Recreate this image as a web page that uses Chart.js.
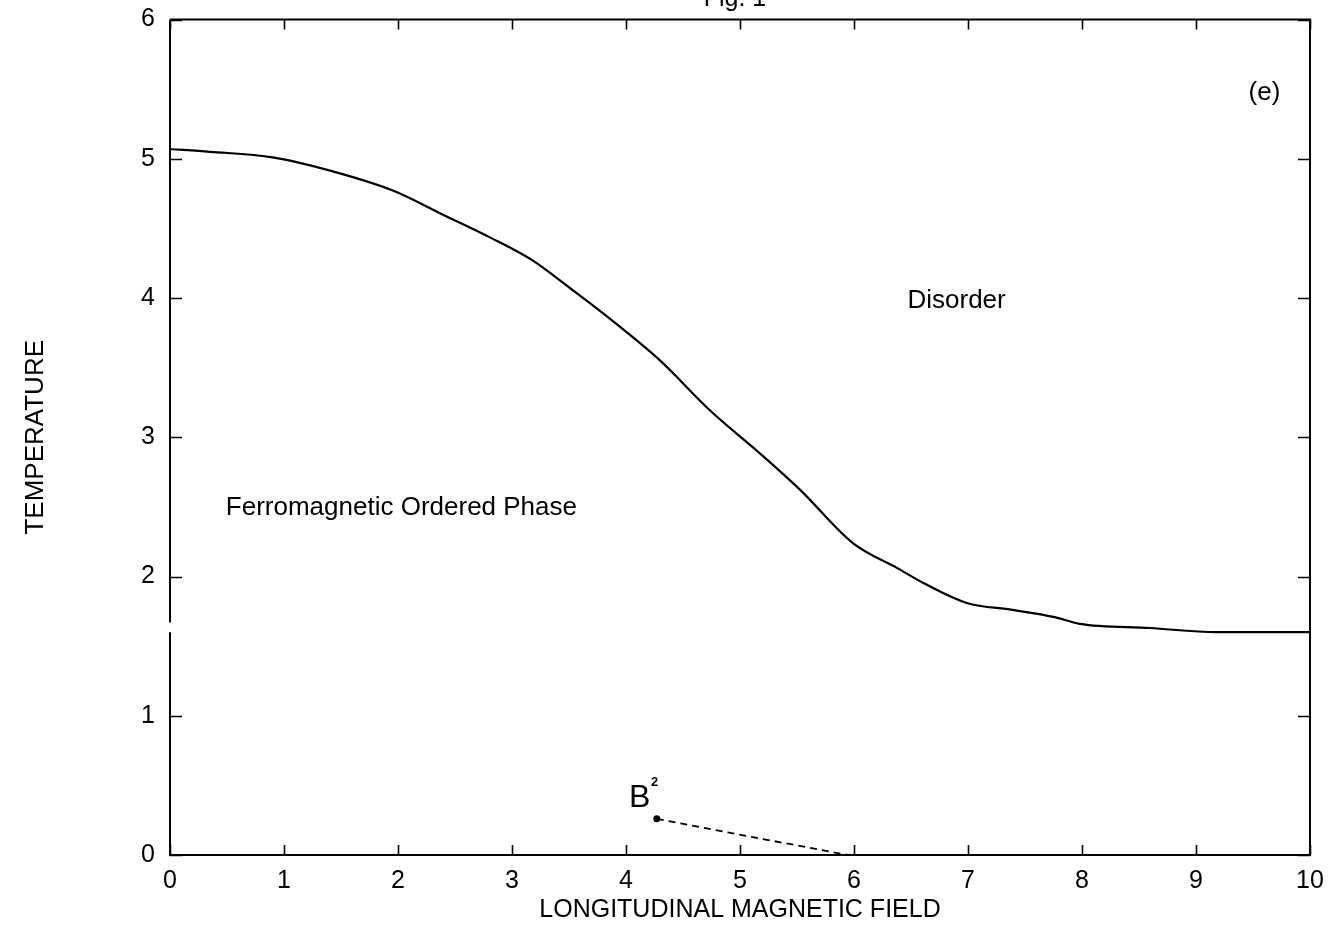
<!DOCTYPE html>
<html>
<head>
<meta charset="utf-8">
<script src="https://cdn.jsdelivr.net/npm/chart.js@4.4.1/dist/chart.umd.min.js"></script>
<style>
  html, body { margin: 0; padding: 0; background: #fff; }
  #wrap { width: 1330px; height: 925px; }
</style>
</head>
<body>
<div id="wrap"><canvas id="phase-chart" width="1330" height="925"></canvas></div>
<script>
// Phase boundary (field, temperature)
const boundaryField = [0, 0.35, 0.9, 1.38, 1.96, 2.39, 2.82, 3.18, 3.51, 3.86, 4.3, 4.74, 5.18, 5.53, 5.99, 6.38, 6.64, 6.99, 7.39, 7.75, 7.98, 8.6, 9.18, 10];
const boundaryTemp  = [5.07, 5.05, 5.01, 4.92, 4.77, 4.6, 4.43, 4.27, 4.07, 3.85, 3.55, 3.19, 2.88, 2.62, 2.24, 2.06, 1.94, 1.81, 1.76, 1.71, 1.66, 1.63, 1.6, 1.6];

// Dashed pointer from the B² mark down to the axis
const pointerField = [4.27, 5.1, 5.95];
const pointerTemp  = [0.26, 0.13, 0];

const xTicks = [0, 1, 2, 3, 4, 5, 6, 7, 8, 9, 10];
const yTicks = [0, 1, 2, 3, 4, 5, 6];

// Text labels inside the plot (x, y in data units)
const notes = [
    { text: 'Ferromagnetic Ordered Phase', x: 2.03, y: 2.49 },
    { text: 'Disorder', x: 6.9, y: 3.98 },
    { text: '(e)', x: 9.6, y: 5.47 }
];

const FONT = '"Liberation Sans", Arial, Helvetica, sans-serif';

const toPoints = (xs, ys) => xs.map((x, i) => ({ x: x, y: ys[i] }));

// frame + inward ticks + annotations
const framePlugin = {
    id: 'frame',
    afterDatasetsDraw(chart) {
        const ctx = chart.ctx;
        const a = chart.chartArea;
        const sx = chart.scales.x;
        const sy = chart.scales.y;
        ctx.save();
        ctx.strokeStyle = '#000';
        ctx.lineWidth = 2;
        ctx.beginPath();
        // left edge has a small break in the scan, just under T = 1.6
        const gapTop = sy.getPixelForValue(1.67);
        const gapBottom = sy.getPixelForValue(1.6);
        ctx.moveTo(a.left, a.top); ctx.lineTo(a.left, gapTop);
        ctx.moveTo(a.left, gapBottom); ctx.lineTo(a.left, a.bottom);
        ctx.lineTo(a.right, a.bottom);
        ctx.lineTo(a.right, a.top);
        ctx.lineTo(a.left, a.top);
        ctx.stroke();

        ctx.lineWidth = 1.6;
        ctx.beginPath();
        xTicks.forEach(v => {
            const px = Math.round(sx.getPixelForValue(v)) + 0.5;
            ctx.moveTo(px, a.bottom); ctx.lineTo(px, a.bottom - 10);
            ctx.moveTo(px, a.top); ctx.lineTo(px, a.top + 10);
        });
        yTicks.forEach(v => {
            const py = Math.round(sy.getPixelForValue(v)) + 0.5;
            ctx.moveTo(a.left, py); ctx.lineTo(a.left + 12, py);
            ctx.moveTo(a.right, py); ctx.lineTo(a.right - 12, py);
        });
        ctx.stroke();

        ctx.fillStyle = '#000';
        ctx.font = '26px ' + FONT;
        ctx.textAlign = 'center';
        ctx.textBaseline = 'middle';
        notes.forEach(n => {
            ctx.fillText(n.text, sx.getPixelForValue(n.x), sy.getPixelForValue(n.y));
        });

        // B² marker near the start of the dashed pointer
        const bx = sx.getPixelForValue(4.12);
        const by = sy.getPixelForValue(0.41);
        ctx.font = '32px ' + FONT;
        ctx.fillText('B', bx, by);
        ctx.font = 'bold 13px ' + FONT;
        ctx.fillText('2', bx + 15, by - 15);

        // figure caption, cut off at the top edge like the scan
        ctx.font = '25px ' + FONT;
        ctx.textBaseline = 'alphabetic';
        ctx.fillText('Fig. 1', 735, 6);
        ctx.restore();
    }
};

new Chart(document.getElementById('phase-chart'), {
    type: 'scatter',
    data: {
        datasets: [
            {
                data: toPoints(boundaryField, boundaryTemp),
                showLine: true,
                borderColor: '#000',
                borderWidth: 2.2,
                pointRadius: 0,
                cubicInterpolationMode: 'monotone'
            },
            {
                data: toPoints(pointerField, pointerTemp),
                showLine: true,
                borderColor: '#000',
                borderWidth: 1.8,
                borderDash: [7, 5],
                pointRadius: [3.5, 0, 0],
                pointBackgroundColor: '#000',
                pointBorderWidth: 0
            }
        ]
    },
    options: {
        responsive: false,
        animation: false,
        layout: { padding: { top: 18, right: 20, left: 0, bottom: 0 } },
        plugins: {
            legend: { display: false },
            tooltip: { enabled: false }
        },
        scales: {
            x: {
                type: 'linear',
                min: 0,
                max: 10,
                afterBuildTicks: s => { s.ticks = xTicks.map(v => ({ value: v })); },
                afterFit: s => { s.height = 70; },
                grid: { display: false },
                border: { display: false },
                ticks: {
                    color: '#000',
                    padding: 3,
                    font: { family: FONT, size: 25 }
                },
                title: {
                    display: true,
                    text: 'LONGITUDINAL MAGNETIC FIELD',
                    color: '#000',
                    font: { family: FONT, size: 25 },
                    padding: { top: 0, bottom: 0 }
                }
            },
            y: {
                type: 'linear',
                min: 0,
                max: 6,
                afterBuildTicks: s => { s.ticks = yTicks.map(v => ({ value: v })); },
                afterFit: s => { s.width = 170; },
                grid: { display: false },
                border: { display: false },
                ticks: {
                    color: '#000',
                    padding: 7,
                    font: { family: FONT, size: 25, lineHeight: 1 }
                },
                title: {
                    display: true,
                    text: 'TEMPERATURE',
                    color: '#000',
                    font: { family: FONT, size: 26 },
                    padding: { top: 20, bottom: 0 }
                }
            }
        }
    },
    plugins: [framePlugin]
});
</script>
</body>
</html>
